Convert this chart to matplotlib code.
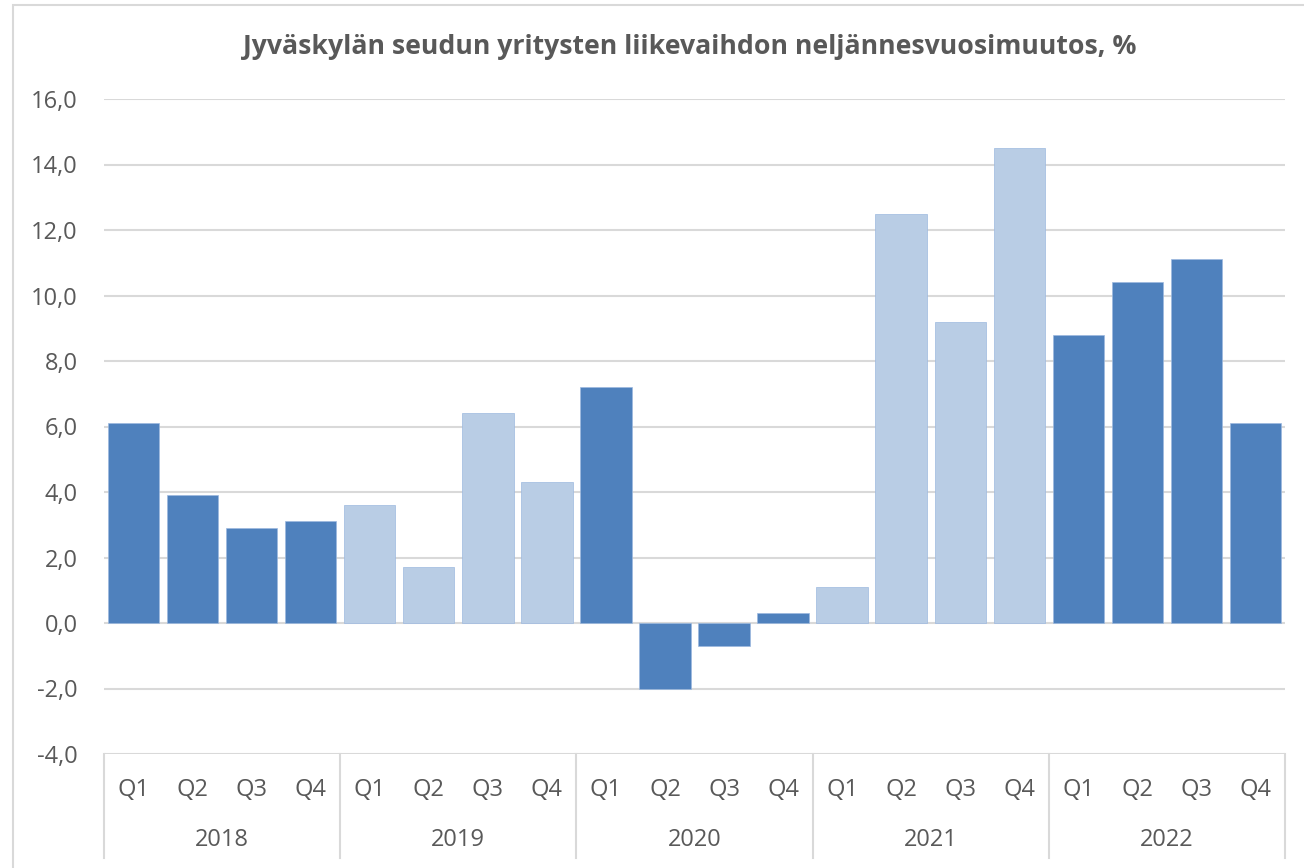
import matplotlib
matplotlib.use("Agg")
import matplotlib.pyplot as plt
from matplotlib.lines import Line2D
from matplotlib.patches import Rectangle

# data
years = ["2018", "2019", "2020", "2021", "2022"]
quarters = ["Q1", "Q2", "Q3", "Q4"]
values = [6.1, 3.9, 2.9, 3.1,
          3.6, 1.7, 6.4, 4.3,
          7.2, -2.0, -0.7, 0.3,
          1.1, 12.5, 9.2, 14.5,
          8.8, 10.4, 11.1, 6.1]
year_colors = ["#4F81BD", "#B9CDE5", "#4F81BD", "#B9CDE5", "#4F81BD"]
yticks = [-4, -2, 0, 2, 4, 6, 8, 10, 12, 14, 16]

plt.rcParams["font.family"] = ["Open Sans", "DejaVu Sans"]
txt = "#595959"
grid = "#D9D9D9"

fig = plt.figure(figsize=(13.04, 8.68), dpi=100)
ax = fig.add_axes([104 / 1304, 1 - 754 / 868, (1285 - 104) / 1304, (754 - 99) / 868])

# figure border
fig.add_artist(Rectangle((13 / 1304, -0.01), 1.02, 1 - 5 / 868 + 0.01,
                         transform=fig.transFigure, fill=False,
                         edgecolor=grid, linewidth=1.5))

colors = [year_colors[i // 4] for i in range(len(values))]
x = list(range(len(values)))
ax.bar(x, values, width=0.87, color=colors, edgecolor="#9DB9DF", linewidth=0.5, zorder=3)

ax.set_xlim(-0.5, len(values) - 0.5)
ax.set_ylim(-4, 16)
ax.set_yticks(yticks)
ax.set_yticklabels([f"{v:.1f}".replace(".", ",") for v in yticks], color=txt, fontsize=17)
ax.tick_params(axis="y", length=0, pad=19)
ax.set_xticks([])
for v in yticks:
    ax.axhline(v, color=grid, linewidth=1.5, zorder=1)
for s in ax.spines.values():
    s.set_visible(False)

# multi-level category axis
for i in x:
    ax.text(i, -0.055, quarters[i % 4], transform=ax.get_xaxis_transform(),
            ha="center", va="center", fontsize=17, color=txt)
for k, yr in enumerate(years):
    ax.text(4 * k + 1.5, -0.132, yr, transform=ax.get_xaxis_transform(),
            ha="center", va="center", fontsize=17, color=txt)
for k in range(len(years) + 1):
    ax.add_line(Line2D([4 * k - 0.5, 4 * k - 0.5], [0, -(858 - 754) / 655],
                       transform=ax.get_xaxis_transform(), color=grid,
                       linewidth=1.5, clip_on=False))

fig.text(690 / 1304, 1 - 47 / 868, "Jyväskylän seudun yritysten liikevaihdon neljännesvuosimuutos, %",
         ha="center", va="center", fontsize=19.2, fontweight="bold", color=txt)

fig.savefig("out.png", dpi=100)
